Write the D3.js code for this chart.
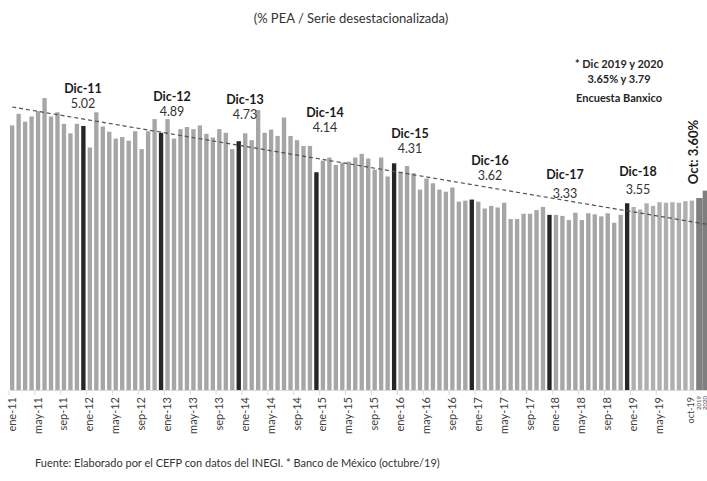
<!DOCTYPE html>
<html><head><meta charset="utf-8">
<script src="https://cdn.jsdelivr.net/npm/d3@7"></script>
<style>body{margin:0;background:#fff}svg{display:block;font-family:Lato,"Open Sans",sans-serif}</style>
</head><body><svg id="c" width="707" height="481"></svg>
<script>
// ---- data ----
const monthAbbr = ["ene","feb","mar","abr","may","jun","jul","ago","sep","oct","nov","dic"];
const years = [11,12,13,14,15,16,17,18,19];
const monthlyValues = [
  5.03,5.25,5.10,5.20,5.30,5.55,5.20,5.28,5.06,4.88,5.06,5.02,
  4.61,5.28,5.01,4.91,4.78,4.81,4.74,4.92,4.58,4.92,5.15,4.89,
  5.15,4.78,4.96,5.00,4.96,5.03,4.87,4.80,4.96,4.89,4.58,4.73,
  4.88,4.75,5.32,4.89,4.95,4.83,5.18,4.83,4.75,4.64,4.64,4.14,
  4.36,4.42,4.28,4.32,4.34,4.42,4.49,4.40,4.19,4.42,4.06,4.31,
  4.15,4.26,4.12,3.81,4.02,3.93,3.81,3.77,3.85,3.58,3.60,3.62,
  3.58,3.45,3.50,3.47,3.56,3.25,3.25,3.35,3.35,3.42,3.48,3.33,
  3.33,3.31,3.23,3.37,3.23,3.36,3.34,3.30,3.36,3.18,3.33,3.55,
  3.48,3.43,3.55,3.50,3.57,3.56,3.57,3.56,3.59,3.60
];
const forecastCats = ["2019","2020"];
const forecastValues = [3.65,3.79];
const decLabels = ["Dic-11","Dic-12","Dic-13","Dic-14","Dic-15","Dic-16","Dic-17","Dic-18"];
const decValues = ["5.02","4.89","4.73","4.14","4.31","3.62","3.33","3.55"];
const tickLabels = ["ene-11","may-11","sep-11","ene-12","may-12","sep-12","ene-13","may-13","sep-13",
  "ene-14","may-14","sep-14","ene-15","may-15","sep-15","ene-16","may-16","sep-16","ene-17","may-17",
  "sep-17","ene-18","may-18","sep-18","ene-19","may-19","oct-19","2019","2020"];
const trendValues = [5.38, 3.15]; // dashed trend line at first and last category

// ---- build categories ----
const months = [];
years.forEach(y => monthAbbr.forEach(m => months.push(m + "-" + y)));
const monthCats = months.slice(0, monthlyValues.length);
const data = monthCats.map((c,i)=>({cat:c, v:monthlyValues[i], type: c.startsWith("dic") ? "dec" : (c.endsWith("-19") ? "m19" : "m")}))
  .concat(forecastCats.map((c,i)=>({cat:c, v:forecastValues[i], type:"f"})));

const svg = d3.select("#c");
const x = d3.scaleBand().domain(data.map(d=>d.cat)).range([10, 707]).paddingInner(0.33).paddingOuter(0);
const y = d3.scaleLinear().domain([0, 7]).range([390, 21.8]);

const colors = {m:"#a6a6a6", m19:"#afafaf", dec:"#262626", f:"#7f7f7f"};
svg.append("g").selectAll("rect").data(data).join("rect")
  .attr("x", d=>x(d.cat)).attr("width", d=> d.type==="f" ? x.step() : x.bandwidth())
  .attr("y", d=>y(d.v)).attr("height", d=>y(0)-y(d.v))
  .attr("fill", d=>colors[d.type]);

// axis
const axis = d3.axisBottom(x).tickValues([]).tickSize(0).tickFormat("");
const ax = svg.append("g").attr("transform","translate(0,390)").call(axis);
ax.select(".domain").attr("stroke","#d9d9d9");
// tick marks at band left edges
svg.append("g").selectAll("line").data(tickLabels.slice(0,26)).join("line")
  .attr("x1", d=>x(d)-x.step()*x.paddingInner()/2).attr("x2", d=>x(d)-x.step()*x.paddingInner()/2)
  .attr("y1",390).attr("y2",395).attr("stroke","#d9d9d9");
// tick labels
svg.append("g").selectAll("text").data(tickLabels).join("text")
  .attr("transform", (d,i)=>{
    const cx = x(d) + x.bandwidth()/2 + (i<26?3.5:2.5);
    return `translate(${cx},${i<27?397:396}) rotate(-90)`;})
  .attr("text-anchor","end")
  .attr("font-size",(d,i)=> i<26 ? 11 : (i==26?9:6))
  .attr("fill","#404040")
  .text(d=>d);

// trend line
const firstCat = data[0].cat, lastCat = data[data.length-1].cat;
svg.append("line")
  .attr("x1", x(firstCat)+x.bandwidth()/2).attr("y1", y(trendValues[0]))
  .attr("x2", x(lastCat)+x.bandwidth()).attr("y2", y(trendValues[1]))
  .attr("stroke","#505050").attr("stroke-width",1.2).attr("stroke-dasharray","4,3");

// december labels
const labelPos = [[83,89,104],[172,97,112],[245,100,115],[325,113,128],[410,134,149],[490,161,176],[565,175,194],[638,172,190]];
decLabels.forEach((t,i)=>{
  const [cx,y1,y2] = labelPos[i];
  svg.append("text").attr("x",cx).attr("y",y1).attr("dy","0.35em").attr("text-anchor","middle")
    .attr("font-size",12.5).attr("font-weight","bold").attr("fill","#1a1a1a").text(t);
  svg.append("text").attr("x",cx).attr("y",y2).attr("dy","0.35em").attr("text-anchor","middle")
    .attr("font-size",12.5).attr("fill","#333").text(decValues[i]);
});

// note
[["* Dic 2019 y 2020",64],["3.65% y 3.79",79],["Encuesta Banxico",98]].forEach(([t,yy])=>{
  svg.append("text").attr("x",619).attr("y",yy).attr("dy","0.35em").attr("text-anchor","middle")
    .attr("font-size",11).attr("font-weight","bold").attr("fill","#262626").text(t);
});
svg.append("text").attr("transform","translate(693,152) rotate(-90)").attr("dy","0.35em")
  .attr("text-anchor","middle").attr("font-size",13).attr("font-weight","bold").attr("fill","#1a1a1a")
  .text("Oct: 3.60%");

// title and source
svg.append("text").attr("x",351).attr("y",18).attr("dy","0.35em").attr("text-anchor","middle")
  .attr("font-size",13).attr("fill","#333").text("(% PEA / Serie desestacionalizada)");
svg.append("text").attr("x",35).attr("y",463).attr("dy","0.35em")
  .attr("font-size",11).attr("fill","#333")
  .text("Fuente: Elaborado por el CEFP con datos del INEGI. * Banco de México (octubre/19)");
</script></body></html>
